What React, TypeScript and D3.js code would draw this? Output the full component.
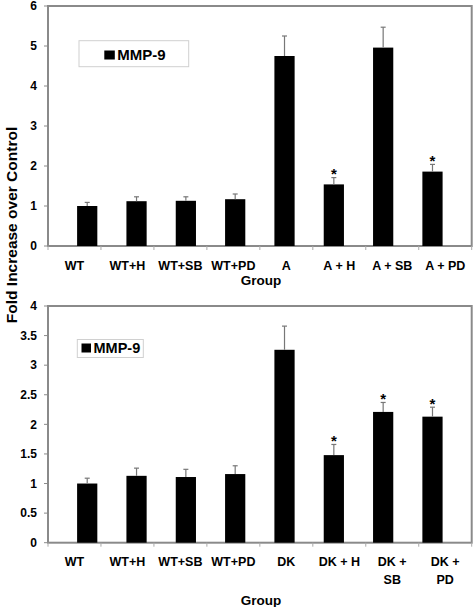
import React from "react";
import * as d3 from "d3";

const topCategories = ["WT", "WT+H", "WT+SB", "WT+PD", "A", "A + H", "A + SB", "A + PD"];
const topValues = [1.0, 1.12, 1.13, 1.17, 4.75, 1.54, 4.96, 1.86];
const topErrors = [0.09, 0.11, 0.1, 0.13, 0.5, 0.17, 0.51, 0.18];
const topSig = [false, false, false, false, false, true, false, true];
const topTicks = [0, 1, 2, 3, 4, 5, 6];

const bottomCategories = ["WT", "WT+H", "WT+SB", "WT+PD", "DK", "DK + H", "DK +|SB", "DK +|PD"];
const bottomValues = [1.0, 1.13, 1.11, 1.16, 3.26, 1.48, 2.21, 2.13];
const bottomErrors = [0.09, 0.13, 0.13, 0.14, 0.4, 0.18, 0.16, 0.16];
const bottomSig = [false, false, false, false, false, true, true, true];
const bottomTicks = [0, 0.5, 1, 1.5, 2, 2.5, 3, 3.5, 4];

const seriesName = "MMP-9";
const yTitle = "Fold Increase over Control";
const xTitle = "Group";

const FONT = "'Liberation Sans', Arial, Helvetica, sans-serif";
const LEFT = 48;
const RIGHT = 471.7;

type PanelProps = {
  cats: string[];
  vals: number[];
  errs: number[];
  sig: boolean[];
  ticks: number[];
  yMax: number;
  top: number;
  bottom: number;
  labelY: number;
  groupY: number;
  legend: { x: number; y: number; w: number; h: number; sx: number; sy: number; sw: number; sh: number; fs: number };
};

function Panel(p: PanelProps) {
  const x = d3.scaleBand<string>().domain(p.cats).range([LEFT, RIGHT]).padding(0.59);
  const step = (RIGHT - LEFT) / p.cats.length;
  const y = d3.scaleLinear().domain([0, p.yMax]).range([p.bottom, p.top]);
  const fmt = (v: number) => (Number.isInteger(v) ? String(v) : String(v));
  return (
    <g>
      {/* plot frame */}
      <rect x={LEFT} y={p.top} width={RIGHT - LEFT} height={p.bottom - p.top} fill="none" stroke="#8a8a8a" strokeWidth={2} />
      {/* y ticks */}
      {p.ticks.map((t) => (
        <g key={"yt" + t}>
          <line x1={LEFT - 4} x2={LEFT} y1={y(t)} y2={y(t)} stroke="#8a8a8a" strokeWidth={1} />
          <text x={37} y={y(t)} dy="0.36em" textAnchor="end" fontFamily={FONT} fontWeight="bold" fontSize={12}>
            {fmt(t)}
          </text>
        </g>
      ))}
      {/* x ticks */}
      {d3.range(p.cats.length + 1).map((i) => (
        <line key={"xt" + i} x1={LEFT + i * step} x2={LEFT + i * step} y1={p.bottom} y2={p.bottom + 4} stroke="#aaaaaa" strokeWidth={1} />
      ))}
      {/* bars */}
      {p.cats.map((c, i) => {
        const bx = x(c) as number;
        const bw = x.bandwidth();
        const cx = bx + bw / 2;
        const eTop = y(p.vals[i] + p.errs[i]);
        return (
          <g key={"b" + i}>
            <rect x={bx} y={y(p.vals[i])} width={bw} height={p.bottom - y(p.vals[i])} fill="#000" />
            <line x1={cx} x2={cx} y1={y(p.vals[i])} y2={eTop} stroke="#777" strokeWidth={1.2} />
            <line x1={cx - 2.5} x2={cx + 2.5} y1={eTop} y2={eTop} stroke="#777" strokeWidth={1.2} />
            {p.sig[i] && (
              <text x={cx} y={eTop + 1.5} textAnchor="middle" fontFamily={FONT} fontWeight="bold" fontSize={15}>
                *
              </text>
            )}
          </g>
        );
      })}
      {/* x labels */}
      {p.cats.map((c, i) => {
        const lines = c.split("|");
        const cx = LEFT + (i + 0.5) * step;
        return (
          <text key={"xl" + i} x={cx} y={p.labelY} textAnchor="middle" fontFamily={FONT} fontWeight="bold" fontSize={12.5}>
            {lines.map((l, j) => (
              <tspan key={j} x={cx} dy={j === 0 ? 0 : 18}>
                {l}
              </tspan>
            ))}
          </text>
        );
      })}
      <text x={261} y={p.groupY} textAnchor="middle" fontFamily={FONT} fontWeight="bold" fontSize={13.5}>
        {xTitle}
      </text>
      {/* legend */}
      <rect x={p.legend.x} y={p.legend.y} width={p.legend.w} height={p.legend.h} fill="#fff" stroke="#d0d0d0" strokeWidth={1} />
      <rect x={p.legend.sx} y={p.legend.sy} width={p.legend.sw} height={p.legend.sh} fill="#000" />
      <text
        x={p.legend.sx + p.legend.sw + 2.5}
        y={p.legend.sy + p.legend.sh / 2}
        dy="0.36em"
        fontFamily={FONT}
        fontWeight="bold"
        fontSize={p.legend.fs}
      >
        {seriesName}
      </text>
    </g>
  );
}

export default function App() {
  return (
    <svg width={475} height={607} style={{ position: "absolute", left: 0, top: 0, background: "#fff" }}>
      <rect width={475} height={607} fill="#fff" />
      <Panel
        cats={topCategories}
        vals={topValues}
        errs={topErrors}
        sig={topSig}
        ticks={topTicks}
        yMax={6}
        top={6}
        bottom={246}
        labelY={270}
        groupY={284.5}
        legend={{ x: 79, y: 40.7, w: 109.7, h: 26, sx: 104.3, sy: 50.5, sw: 10.5, sh: 9, fs: 15 }}
      />
      <Panel
        cats={bottomCategories}
        vals={bottomValues}
        errs={bottomErrors}
        sig={bottomSig}
        ticks={bottomTicks}
        yMax={4}
        top={306}
        bottom={542.7}
        labelY={566}
        groupY={604.5}
        legend={{ x: 77.3, y: 339.5, w: 66, h: 18, sx: 81.5, sy: 343.5, sw: 9.5, sh: 9, fs: 14.5 }}
      />
      <text
        transform="translate(17,225) rotate(-90)"
        textAnchor="middle"
        fontFamily={FONT}
        fontWeight="bold"
        fontSize={15.5}
      >
        {yTitle}
      </text>
    </svg>
  );
}
